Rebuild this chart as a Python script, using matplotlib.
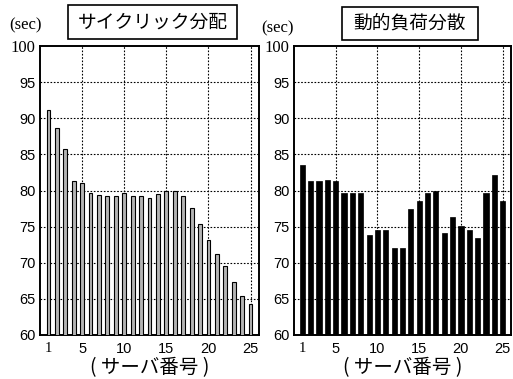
import matplotlib
matplotlib.use("Agg")
import matplotlib.pyplot as plt
from matplotlib.patches import Rectangle

plt.rcParams['font.family'] = ['Liberation Sans', 'Noto Sans CJK JP']

servers = list(range(1, 26))
cyclic = [91.2, 88.7, 85.7, 81.3, 81.1, 79.7, 79.4, 79.2, 79.3, 79.6,
          79.3, 79.2, 79.0, 79.5, 80.0, 79.9, 79.2, 77.6, 75.4, 73.1,
          71.2, 69.5, 67.3, 65.4, 64.3]
dynamic = [83.5, 81.3, 81.3, 81.4, 81.3, 79.7, 79.6, 79.6, 73.9, 74.5,
           74.6, 72.1, 72.1, 77.5, 78.6, 79.7, 79.9, 74.1, 76.4, 75.1,
           74.6, 73.4, 79.6, 82.1, 78.5]
titles = ["サイクリック分配", "動的負荷分散"]
yticks = [60, 65, 70, 75, 80, 85, 90, 95, 100]
xticks = [1, 5, 10, 15, 20, 25]

W, H = 513, 379
fig = plt.figure(figsize=(W / 100, H / 100), dpi=100)


def px(x0, y0, x1, y1):
    # pixel box (top-left origin) -> figure fraction rect
    return [x0 / W, 1 - y1 / H, (x1 - x0) / W, (y1 - y0) / H]


panels = [
    dict(rect=px(40, 46, 259, 335), vals=cyclic, width=0.45,
         fc='#b4b4b4', lw=0.8, box=(68, 5, 237, 39), sec=(25, 25)),
    dict(rect=px(294, 46, 511, 335), vals=dynamic, width=0.62,
         fc='black', lw=0.5, box=(342, 7, 478, 40), sec=(278, 28)),
]

for p, title in zip(panels, titles):
    ax = fig.add_axes(p['rect'])
    ax.bar(servers, p['vals'], width=p['width'], color=p['fc'],
           edgecolor='black', linewidth=p['lw'], zorder=3)
    ax.set_xlim(0, 26)
    ax.set_ylim(60, 100)
    ax.set_yticks(yticks)
    ax.set_xticks(xticks)
    for y in yticks[1:-1]:
        ax.axhline(y, color='black', lw=0.8, ls=(0, (1.5, 1.5)), zorder=1)
    for x in [5, 10, 15, 20, 25]:
        ax.axvline(x, color='black', lw=0.8, ls=(0, (1.5, 1.5)), zorder=1)
    ax.tick_params(length=0, labelsize=10.5, pad=5)
    ax.tick_params(axis='y', pad=3)
    for lbl in ax.get_yticklabels():
        if lbl.get_text() == '100':
            lbl.set_family('Liberation Serif')
            lbl.set_fontsize(12)
    for lbl in ax.get_xticklabels():
        if lbl.get_text() == '1':
            lbl.set_family('Liberation Serif')
    for s in ax.spines.values():
        s.set_linewidth(1.4)
    ax.set_xlabel("( サーバ番号 )", fontsize=14, labelpad=1,
                  family=['Noto Sans CJK JP'])

    x0, y0, x1, y1 = p['box']
    fig.patches.append(Rectangle((x0 / W, 1 - y1 / H), (x1 - x0) / W,
                                 (y1 - y0) / H, transform=fig.transFigure,
                                 fill=False, ec='black', lw=1.2))
    fig.text((x0 + x1) / 2 / W, 1 - (y0 + y1) / 2 / H, title,
             ha='center', va='center', fontsize=13.5,
             family=['Noto Sans CJK JP'])
    fig.text(p['sec'][0] / W, 1 - p['sec'][1] / H, "(sec)",
             ha='center', va='center', fontsize=12,
             family='Liberation Serif')

fig.savefig("out.png", dpi=100)
